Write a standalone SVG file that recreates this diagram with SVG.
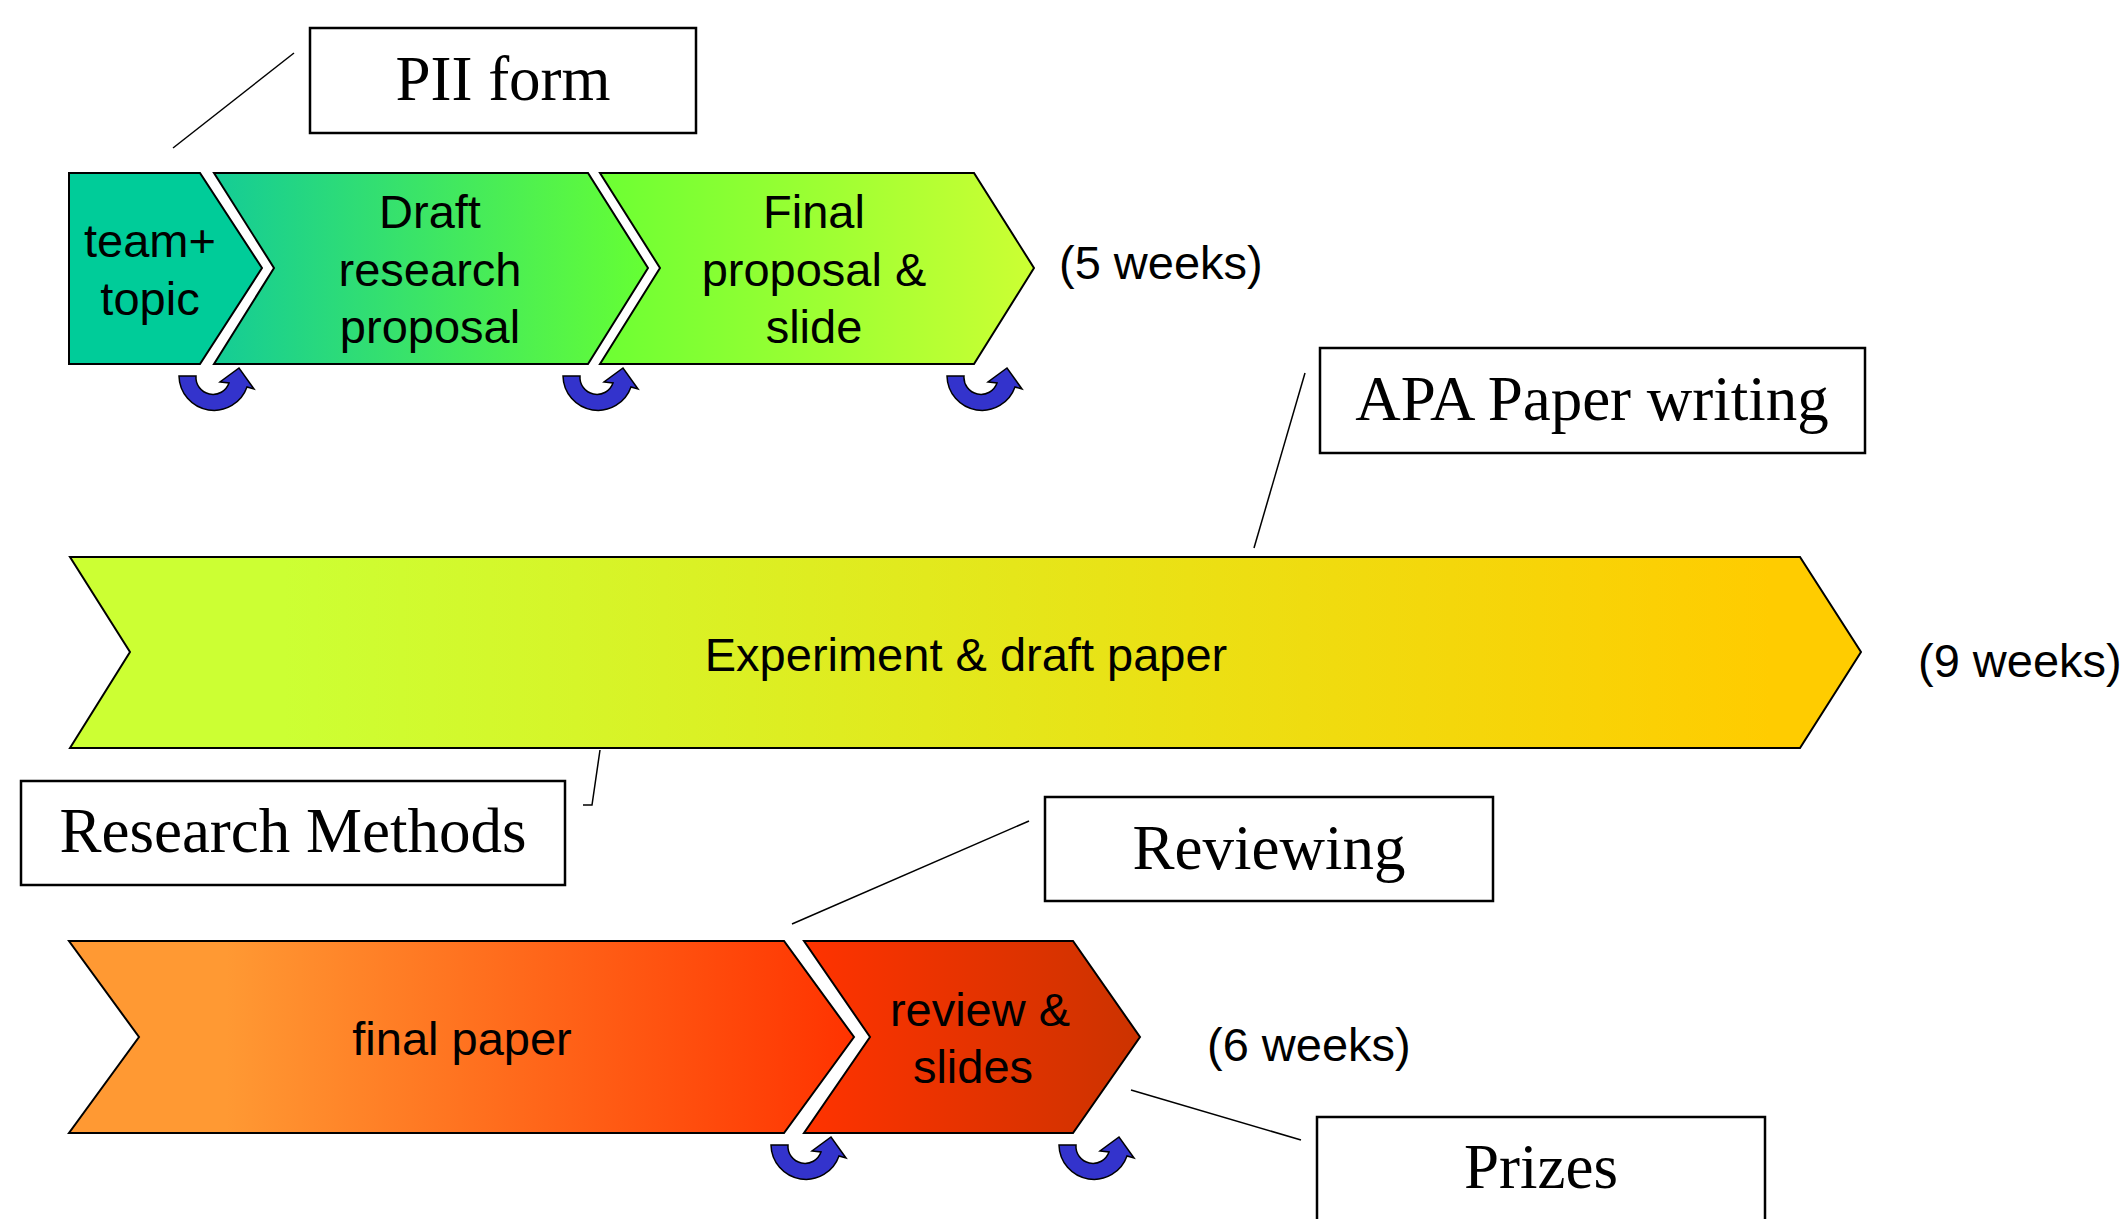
<svg xmlns="http://www.w3.org/2000/svg" xmlns:xlink="http://www.w3.org/1999/xlink" width="2121" height="1219" viewBox="0 0 2121 1219">
<defs>
<style>
.chev{stroke:#000;stroke-width:2;stroke-linejoin:miter}
.lbl{font-family:"Liberation Sans",Arial,sans-serif;font-size:47px;fill:#000;text-anchor:middle}
.dur{font-family:"Liberation Sans",Arial,sans-serif;font-size:47px;fill:#000}
.box{fill:#fff;stroke:#000;stroke-width:2.5}
.btxt{font-family:"Liberation Serif","Times New Roman",serif;font-size:63px;fill:#000;text-anchor:middle}
.conn{fill:none;stroke:#000;stroke-width:1.5}
.cyc{fill:#3333CC;stroke:#000;stroke-width:1.5;stroke-linejoin:miter}
</style>
<linearGradient id="g2" x1="0" y1="0" x2="1" y2="0"><stop offset="0" stop-color="#14CC96"/><stop offset="1" stop-color="#66FF33"/></linearGradient>
<linearGradient id="g3" x1="0" y1="0" x2="1" y2="0"><stop offset="0" stop-color="#6CFF33"/><stop offset="1" stop-color="#CCFF33"/></linearGradient>
<linearGradient id="g4" x1="0" y1="0" x2="1" y2="0"><stop offset="0" stop-color="#CCFF33"/><stop offset="0.12" stop-color="#CCFF33"/><stop offset="0.95" stop-color="#FFCC00"/><stop offset="1" stop-color="#FFCC00"/></linearGradient>
<linearGradient id="g5" x1="0" y1="0" x2="1" y2="0"><stop offset="0" stop-color="#FF9933"/><stop offset="0.2" stop-color="#FF9933"/><stop offset="1" stop-color="#FF3300"/></linearGradient>
<linearGradient id="g6" x1="0" y1="0" x2="1" y2="0"><stop offset="0" stop-color="#FF3300"/><stop offset="1" stop-color="#CC3300"/></linearGradient>
<path id="cycle" class="cyc" d="M -35,0 A 35 35 0 0 0 33,11 L 40,13 L 25,-8 L 6,6 L 15,7 A 17 17 0 0 1 -18,0 Z"/>
</defs>

<g id="connectors">
<line class="conn" x1="173" y1="148" x2="294" y2="53"/>
<line class="conn" x1="1305" y1="373" x2="1254" y2="548"/>
<polyline class="conn" points="600,750 592,805 583,805"/>
<line class="conn" x1="1029" y1="821" x2="792" y2="924"/>
<line class="conn" x1="1131" y1="1090" x2="1301" y2="1140"/>
</g>

<g id="team-topic">
<polygon class="chev" fill="#00CC99" points="69,173 200,173 262,268 200,364 69,364"/>
<text class="lbl" x="150" y="257">team+</text>
<text class="lbl" x="150" y="315">topic</text>
</g>
<g id="draft-research-proposal">
<polygon class="chev" fill="url(#g2)" points="214,173 588,173 648,268 588,364 214,364 274,268"/>
<text class="lbl" x="430" y="228">Draft</text>
<text class="lbl" x="430" y="286">research</text>
<text class="lbl" x="430" y="343">proposal</text>
</g>
<g id="final-proposal-slide">
<polygon class="chev" fill="url(#g3)" points="600,173 974,173 1034,268 974,364 600,364 660,268"/>
<text class="lbl" x="814" y="228">Final</text>
<text class="lbl" x="814" y="286">proposal &amp;</text>
<text class="lbl" x="814" y="343">slide</text>
</g>
<g id="dur-5"><text class="dur" x="1059" y="279">(5 weeks)</text></g>

<g id="experiment-draft-paper">
<polygon class="chev" fill="url(#g4)" points="70,557 1800,557 1861,652 1800,748 70,748 130,652"/>
<text class="lbl" x="966" y="671">Experiment &amp; draft paper</text>
</g>
<g id="dur-9"><text class="dur" x="1918" y="677">(9 weeks)</text></g>

<g id="final-paper">
<polygon class="chev" fill="url(#g5)" points="69,941 784,941 854,1037 784,1133 69,1133 139,1037"/>
<text class="lbl" x="462" y="1055">final paper</text>
</g>
<g id="review-slides">
<polygon class="chev" fill="url(#g6)" points="804,941 1073,941 1140,1037 1073,1133 804,1133 870,1037"/>
<text class="lbl" x="980" y="1026">review &amp;</text>
<text class="lbl" x="973" y="1083">slides</text>
</g>
<g id="dur-6"><text class="dur" x="1207" y="1061">(6 weeks)</text></g>

<g id="cycle-arrows">
<use xlink:href="#cycle" href="#cycle" transform="translate(214,376)"/>
<use xlink:href="#cycle" href="#cycle" transform="translate(598,376)"/>
<use xlink:href="#cycle" href="#cycle" transform="translate(982,376)"/>
<use xlink:href="#cycle" href="#cycle" transform="translate(806,1145)"/>
<use xlink:href="#cycle" href="#cycle" transform="translate(1094,1145)"/>
</g>

<g id="pii-form">
<rect class="box" x="310" y="28" width="386" height="105"/>
<text class="btxt" x="503" y="100">PII form</text>
</g>
<g id="apa-paper-writing">
<rect class="box" x="1320" y="348" width="545" height="105"/>
<text class="btxt" x="1592" y="420">APA Paper writing</text>
</g>
<g id="research-methods">
<rect class="box" x="21" y="781" width="544" height="104"/>
<text class="btxt" x="293" y="852">Research Methods</text>
</g>
<g id="reviewing">
<rect class="box" x="1045" y="797" width="448" height="104"/>
<text class="btxt" x="1269" y="869">Reviewing</text>
</g>
<g id="prizes">
<rect class="box" x="1317" y="1117" width="448" height="104"/>
<text class="btxt" x="1541" y="1188">Prizes</text>
</g>
</svg>
